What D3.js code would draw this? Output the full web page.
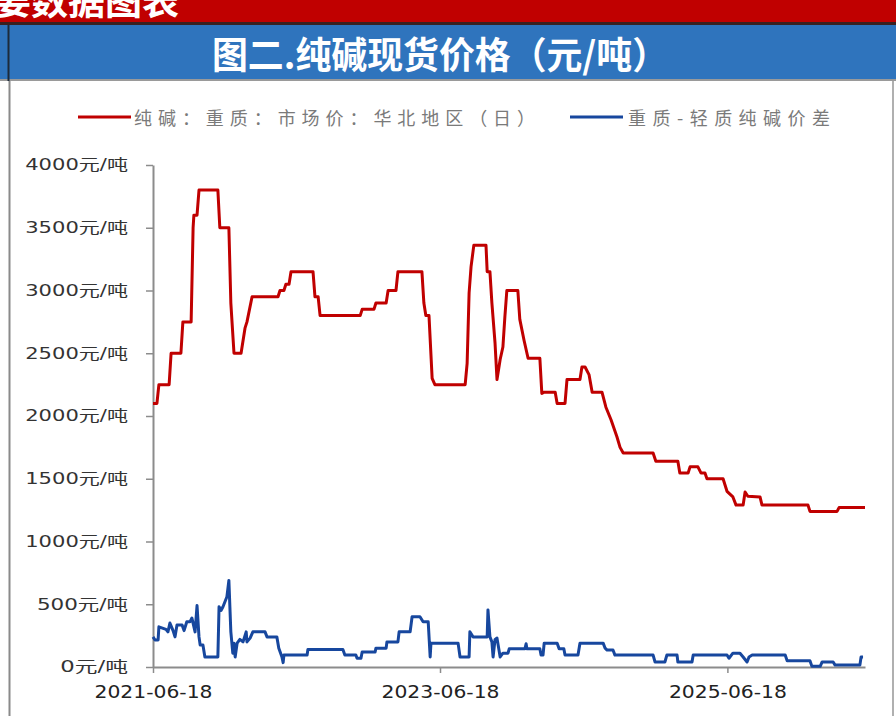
<!DOCTYPE html>
<html><head><meta charset="utf-8">
<script src="https://cdn.jsdelivr.net/npm/d3@7/dist/d3.min.js"></script>
<style>
html,body{margin:0;padding:0;background:#fff;}
svg{display:block;}
</style></head>
<body>
<svg id="chart" width="896" height="716"></svg>
<script>
// ---------- data ----------
const bannerText = "重要数据图表";
const titleText = "图二.纯碱现货价格（元/吨）";
const legendLabels = ["纯碱：重质：市场价：华北地区（日）", "重质-轻质纯碱价差"];
const yTicks = [0, 500, 1000, 1500, 2000, 2500, 3000, 3500, 4000];
const xTicks = ["2021-06-18", "2023-06-18", "2025-06-18"];
const xDomain = ["2021-06-18", "2026-06-03"];

const priceDates = ["2021-06-18","2021-06-28","2021-07-03","2021-07-29","2021-08-03","2021-08-28","2021-09-02","2021-09-23","2021-09-28","2021-09-30","2021-10-08","2021-10-13","2021-11-30","2021-12-05","2021-12-28","2022-01-02","2022-01-10","2022-01-28","2022-02-07","2022-02-12","2022-02-25","2022-05-02","2022-05-07","2022-05-17","2022-05-22","2022-05-30","2022-06-04","2022-07-30","2022-08-04","2022-08-12","2022-08-17","2022-11-27","2022-12-02","2023-01-01","2023-01-06","2023-02-01","2023-02-06","2023-02-26","2023-03-03","2023-05-03","2023-05-08","2023-05-13","2023-05-21","2023-05-29","2023-06-05","2023-08-21","2023-08-26","2023-08-31","2023-09-05","2023-09-12","2023-10-13","2023-10-16","2023-10-23","2023-10-28","2023-11-05","2023-11-10","2023-11-18","2023-11-25","2023-11-30","2023-12-05","2024-01-02","2024-01-07","2024-01-18","2024-01-28","2024-02-27","2024-03-03","2024-03-09","2024-04-06","2024-04-11","2024-05-01","2024-05-06","2024-06-08","2024-06-13","2024-06-21","2024-07-01","2024-07-09","2024-08-03","2024-08-13","2024-08-26","2024-09-10","2024-09-18","2024-09-26","2024-12-11","2024-12-18","2025-02-12","2025-02-17","2025-03-10","2025-03-15","2025-04-04","2025-04-12","2025-04-22","2025-04-27","2025-06-07","2025-06-17","2025-07-02","2025-07-10","2025-07-28","2025-08-02","2025-08-09","2025-09-09","2025-09-14","2026-01-09","2026-01-14","2026-03-24","2026-03-29","2026-06-03"];
const priceValues = [2100,2100,2250,2250,2500,2500,2750,2750,3500,3600,3600,3800,3800,3500,3500,2900,2500,2500,2700,2750,2950,2950,3000,3000,3050,3050,3150,3150,2950,2950,2800,2800,2850,2850,2900,2900,3000,3000,3150,3150,2900,2800,2800,2300,2250,2250,2420,2980,3190,3360,3360,3150,3150,2900,2580,2290,2450,2550,2790,3000,3000,2770,2600,2460,2460,2180,2190,2190,2100,2100,2290,2290,2390,2390,2330,2190,2190,2070,1970,1835,1750,1705,1705,1640,1640,1545,1545,1595,1595,1545,1545,1500,1500,1400,1355,1290,1290,1395,1360,1355,1290,1290,1240,1240,1270,1270];

const spreadDates = ["2021-06-18","2021-06-23","2021-07-01","2021-07-03","2021-07-21","2021-07-26","2021-07-31","2021-08-08","2021-08-13","2021-08-18","2021-08-31","2021-09-05","2021-09-12","2021-09-20","2021-09-25","2021-10-03","2021-10-08","2021-10-13","2021-10-16","2021-10-23","2021-10-28","2021-11-30","2021-12-03","2021-12-08","2021-12-13","2021-12-18","2021-12-23","2021-12-28","2022-01-02","2022-01-07","2022-01-10","2022-01-13","2022-01-18","2022-01-25","2022-02-02","2022-02-10","2022-02-12","2022-02-20","2022-02-27","2022-03-30","2022-04-04","2022-04-29","2022-05-04","2022-05-12","2022-05-15","2022-05-17","2022-07-15","2022-07-17","2022-10-14","2022-10-19","2022-11-16","2022-11-19","2022-11-29","2022-12-02","2023-01-04","2023-01-06","2023-02-01","2023-02-03","2023-03-03","2023-03-06","2023-04-03","2023-04-08","2023-04-28","2023-05-06","2023-05-19","2023-05-24","2023-05-26","2023-08-03","2023-08-08","2023-08-31","2023-09-02","2023-09-10","2023-10-16","2023-10-18","2023-10-23","2023-10-28","2023-10-31","2023-11-05","2023-11-10","2023-11-18","2023-11-25","2023-12-08","2023-12-11","2024-01-20","2024-01-23","2024-01-25","2024-02-27","2024-03-01","2024-03-06","2024-03-09","2024-04-11","2024-04-16","2024-04-28","2024-05-01","2024-06-03","2024-06-08","2024-08-06","2024-08-11","2024-08-16","2024-08-31","2024-09-05","2024-12-11","2024-12-16","2025-01-10","2025-01-15","2025-02-10","2025-02-12","2025-03-20","2025-03-23","2025-06-17","2025-06-22","2025-07-02","2025-07-20","2025-07-28","2025-08-07","2025-08-12","2025-08-20","2025-11-12","2025-11-17","2026-01-14","2026-01-19","2026-02-09","2026-02-14","2026-03-14","2026-03-19","2026-05-21","2026-05-24","2026-05-29"];
const spreadValues = [240,215,215,320,300,280,350,290,240,335,335,290,360,360,390,280,490,240,175,175,80,80,480,450,480,520,560,690,280,110,190,80,190,220,200,280,200,230,280,280,240,240,150,80,35,95,95,140,140,95,95,70,70,120,120,150,150,200,200,280,280,400,400,360,360,80,190,190,80,80,280,240,240,455,240,200,80,220,230,80,110,110,145,145,185,145,145,95,95,190,190,145,145,95,95,190,190,150,135,135,95,95,40,40,95,95,40,40,95,95,70,110,110,80,40,80,95,95,50,50,5,5,40,40,15,15,80,80];

// ---------- drawing ----------
const W = 896, H = 716;
const svg = d3.select("#chart");
const parse = d3.timeParse("%Y-%m-%d");
const cjk = "'Noto Sans CJK SC', 'Noto Sans', sans-serif";

// header bands
svg.append("rect").attr("x",0).attr("y",0).attr("width",W).attr("height",23).attr("fill","#c00000");
svg.append("rect").attr("x",0).attr("y",22).attr("width",W).attr("height",3).attr("fill","#3a2020");
svg.append("rect").attr("x",0).attr("y",25).attr("width",W).attr("height",55).attr("fill","#2f74bd");
svg.append("rect").attr("x",0).attr("y",79).attr("width",W).attr("height",2).attr("fill","#9a9a9a");

svg.append("text").attr("x",179).attr("y",-1)
  .attr("text-anchor","end").attr("dominant-baseline","central")
  .attr("font-family",cjk).attr("font-weight","bold").attr("font-size",37)
  .attr("fill","#fff").text(bannerText);

svg.append("text").attr("x",440).attr("y",53)
  .attr("text-anchor","middle").attr("dominant-baseline","central")
  .attr("font-family",cjk).attr("font-weight","bold").attr("font-size",37)
  .attr("textLength",456).attr("lengthAdjust","spacingAndGlyphs")
  .attr("fill","#fff").text(titleText);

// frame lines
svg.append("line").attr("x1",8.5).attr("x2",8.5).attr("y1",25).attr("y2",81).attr("stroke","#1d2a3a").attr("stroke-width",2);
svg.append("line").attr("x1",9.5).attr("x2",9.5).attr("y1",81).attr("y2",H).attr("stroke","#8a8a8a").attr("stroke-width",2);
svg.append("line").attr("x1",893).attr("x2",893).attr("y1",81).attr("y2",H).attr("stroke","#b0b0b0").attr("stroke-width",2);

// scales
const x = d3.scaleTime().domain(xDomain.map(parse)).range([153, 865]);
const y = d3.scaleLinear().domain([0, 4000]).range([667, 165]);

// legend
const legendColors = ["#c00000", "#17479e"];
const legendPos = [{lx:78, tx:134, tw:401}, {lx:570, tx:628, tw:202}];
legendLabels.forEach((lab,i)=>{
  const p = legendPos[i];
  svg.append("line").attr("x1",p.lx).attr("x2",p.lx+53).attr("y1",117).attr("y2",117)
    .attr("stroke",legendColors[i]).attr("stroke-width",3);
  svg.append("text").attr("x",p.tx).attr("y",117).attr("dominant-baseline","central")
    .attr("font-family",cjk).attr("font-size",18).attr("fill","#7a7a7a")
    .attr("textLength",p.tw).attr("lengthAdjust","spacing").text(lab);
});

// axes
const axisColor = "#8c8c8c";
const yAxis = d3.axisLeft(y).tickValues(yTicks).tickSize(7).tickSizeOuter(0).tickPadding(18)
  .tickFormat(d => d + "元/吨");
const gy = svg.append("g").attr("transform","translate(153,0)").call(yAxis);
gy.selectAll("text").attr("font-family","'DejaVu Sans', 'Noto Sans CJK SC', sans-serif")
  .attr("font-size",15).attr("fill","#333")
  .attr("textLength", d => String(d).length*11.7 + 56).attr("lengthAdjust","spacingAndGlyphs");

const xAxis = d3.axisBottom(x).tickValues(xTicks.map(parse)).tickSize(6).tickSizeOuter(0).tickPadding(13)
  .tickFormat(d3.timeFormat("%Y-%m-%d"));
const gx = svg.append("g").attr("transform","translate(0,667)").call(xAxis);
gx.selectAll("text").attr("font-family","'DejaVu Sans', sans-serif").attr("font-size",17).attr("fill","#222")
  .attr("textLength",118).attr("lengthAdjust","spacingAndGlyphs");

[gx, gy].forEach(g=>{
  g.select(".domain").attr("stroke",axisColor).attr("stroke-width",2);
  g.selectAll(".tick line").attr("stroke",axisColor).attr("stroke-width",1.5);
});

// lines
const line = d3.line().x(d=>x(d[0])).y(d=>y(d[1]));
const price = priceDates.map((d,i)=>[parse(d), priceValues[i]]);
const spread = spreadDates.map((d,i)=>[parse(d), spreadValues[i]]);

svg.append("path").datum(spread).attr("d",line).attr("fill","none")
  .attr("stroke","#17479e").attr("stroke-width",3).attr("stroke-linejoin","round");
svg.append("path").datum(price).attr("d",line).attr("fill","none")
  .attr("stroke","#c00000").attr("stroke-width",3).attr("stroke-linejoin","round");
</script>
</body></html>
